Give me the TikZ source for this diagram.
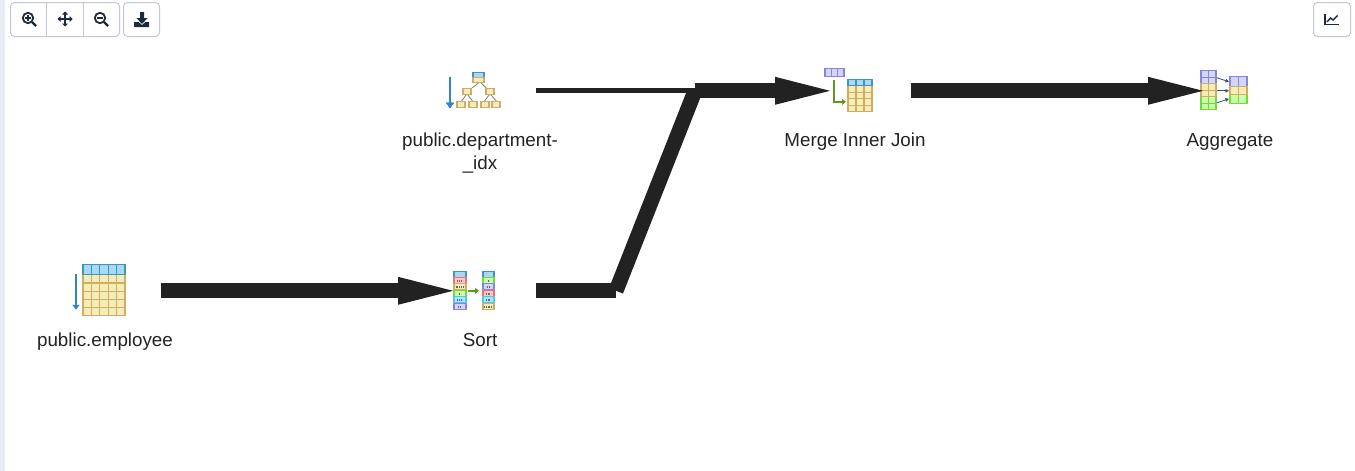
\documentclass[tikz,border=0pt]{standalone}
\usepackage{fontspec}
\setmainfont{Liberation Sans}
\usetikzlibrary{arrows.meta,positioning}

\definecolor{flowink}{HTML}{222222}
\definecolor{toolink}{HTML}{1E2A3A}
\definecolor{toolline}{HTML}{C3C7D6}
\definecolor{sidebar}{HTML}{E9EBF5}
\definecolor{rowfill}{HTML}{F3EDB8}
\definecolor{rowline}{HTML}{D4AB62}
\definecolor{headfill}{HTML}{A9D8F2}
\definecolor{headline}{HTML}{3F93C8}
\definecolor{lavfill}{HTML}{D5D5F7}
\definecolor{lavline}{HTML}{8585E0}
\definecolor{grnfill}{HTML}{CCFFAA}
\definecolor{grnline}{HTML}{6EDD3C}
\definecolor{redfill}{HTML}{FFC8C8}
\definecolor{redline}{HTML}{F07070}
\definecolor{cyanfill}{HTML}{A8E8FF}
\definecolor{cyanline}{HTML}{50C8F0}
\definecolor{arrowgrn}{HTML}{5E9A1E}
\definecolor{arrowblu}{HTML}{2F86C0}
\definecolor{arrowgry}{HTML}{3C5068}

% one block with a grid in it: corners, columns, rows, line and fill colour
\newcommand{\cellblock}[8]{%
  \filldraw[draw=#7,fill=#8,line width=1.2pt] (#1,#2) rectangle (#3,#4);
  \foreach \i in {1,...,#5} {
    \ifnum\i<#5
    \draw[#7,line width=1.1pt] ({#1+(#3-#1)*\i/#5},#2) -- ({#1+(#3-#1)*\i/#5},#4);
    \fi
  }
  \foreach \i in {1,...,#6} {
    \ifnum\i<#6
    \draw[#7,line width=1.1pt] (#1,{#2+(#4-#2)*\i/#6}) -- (#3,{#2+(#4-#2)*\i/#6});
    \fi
  }
}

\tikzset{
  plan/.style={minimum width=112pt,minimum height=50pt,inner sep=0pt},
  caption/.style={font=\fontsize{18.8pt}{23pt}\selectfont,text=flowink,align=center,inner sep=0pt,anchor=base},
  flow/.style={draw=flowink,line width=15pt},
  flowtip/.style={flow,-{Triangle[length=55pt,width=28pt,line width=0pt]}},
  scanarrow/.style={draw=arrowblu,line width=1.6pt,-{Triangle[length=5pt,width=7pt]}},
  toolbox/.style={draw=toolline,line width=1pt,rounded corners=4pt,fill=white},
  tablescan/.pic={
    \cellblock{-22}{-16}{20}{25}{5}{5}{rowline}{rowfill}
    \cellblock{-22}{-26}{20}{-16}{5}{1}{headline}{headfill}
    \draw[scanarrow] (-29,-17) -- (-29,19);
  },
  indexscan/.pic={
    \draw[gray,line width=.8pt] (0,-9) -- (-13,1) (0,-9) -- (10,1);
    \draw[gray,line width=.8pt] (-13,3) -- (-19,11) (-13,3) -- (-7,11) (10,3) -- (4,11) (10,3) -- (17,11);
    \cellblock{-7}{-13}{4}{-18}{1}{1}{headline}{headfill}
    \cellblock{-7}{-13}{4}{-8}{1}{1}{rowline}{rowfill}
    \foreach \bx in {-17,6}
      \cellblock{\bx}{-2}{\bx+8}{4}{1}{1}{rowline}{rowfill}
    \foreach \bx in {-23,-11,1,12}
      \cellblock{\bx}{11}{\bx+8}{17}{1}{1}{rowline}{rowfill}
    \draw[scanarrow] (-30,-14) -- (-30,17);
  },
  mergejoin/.pic={
    \cellblock{-30}{-22}{-11}{-14}{3}{1}{lavline}{lavfill}
    \cellblock{-7}{-5}{17}{21}{3}{4}{rowline}{rowfill}
    \cellblock{-7}{-11}{17}{-5}{3}{1}{headline}{headfill}
    \draw[arrowgrn,line width=1.6pt,-{Triangle[length=4pt,width=6pt]}] (-21,-11) -- (-21,11) -- (-9,11);
  },
  aggregate/.pic={
    \cellblock{-29}{-20}{-14}{-7}{2}{2}{lavline}{lavfill}
    \cellblock{-29}{6}{-14}{19}{2}{2}{grnline}{grnfill}
    \cellblock{-29}{-7}{-14}{6}{2}{2}{rowline}{rowfill}
    \cellblock{0}{-14}{17}{-4}{2}{1}{lavline}{lavfill}
    \cellblock{0}{4}{17}{13}{2}{1}{grnline}{grnfill}
    \cellblock{0}{-4}{17}{4}{2}{1}{rowline}{rowfill}
    \draw[arrowgry,line width=.8pt,-{Triangle[length=3.5pt,width=3.5pt]}] (-13,-13) -- (-1,-9);
    \draw[arrowgry,line width=.8pt,-{Triangle[length=3.5pt,width=3.5pt]}] (-13,0) -- (-1,0);
    \draw[arrowgry,line width=.8pt,-{Triangle[length=3.5pt,width=3.5pt]}] (-13,12) -- (-1,8);
  },
  sortstack/.pic={
    \foreach \cy/\cl/\cf/\bw in {-19/headline/headfill/0,-13/redline/redfill/3,-7/rowline/rowfill/5,0/grnline/grnfill/1,6/cyanline/cyanfill/3,13/lavline/lavfill/2}{
      \cellblock{-26}{\cy}{-14}{\cy+6}{1}{1}{\cl}{\cf}
      \ifnum\bw>0
        \draw[gray!80!black,line width=2.4pt,dash pattern=on .9pt off .9pt] ({-20-.9*\bw},\cy+3) -- ({-20+.9*\bw},\cy+3);
      \fi
    }
    \foreach \cy/\cl/\cf/\bw in {-19/headline/headfill/0,-13/grnline/grnfill/1,-7/lavline/lavfill/2,0/redline/redfill/3,6/cyanline/cyanfill/3,13/rowline/rowfill/5}{
      \cellblock{3}{\cy}{14}{\cy+6}{1}{1}{\cl}{\cf}
      \ifnum\bw>0
        \draw[gray!80!black,line width=2.4pt,dash pattern=on .9pt off .9pt] ({8.5-.9*\bw},\cy+3) -- ({8.5+.9*\bw},\cy+3);
      \fi
    }
    \draw[arrowgrn,line width=1.6pt,-{Triangle[length=4pt,width=6pt]}] (-12,0) -- (-1,0);
  }
}

\begin{document}
\begin{tikzpicture}[x=1pt,y=-1pt,on grid,node distance=375pt]
  \useasboundingbox (0,0) rectangle (1355,471);
  \fill[sidebar] (0,0) rectangle (5,471);

  % toolbar
  \draw[toolbox] (10.5,2.5) rectangle (119.5,36.5);
  \draw[toolline,line width=1pt] (46.5,2.5) -- (46.5,36.5) (83.5,2.5) -- (83.5,36.5);
  \draw[toolbox] (123.5,2.5) rectangle (159.5,36.5);
  \draw[toolbox] (1313.5,2.5) rectangle (1350.5,36.5);
  \foreach \mx in {28,100} {
    \draw[toolink,line width=1.8pt] (\mx,18) circle (5.2);
    \draw[toolink,line width=2.4pt] (\mx+4,22) -- (\mx+8,26);
    \draw[toolink,line width=1.2pt] (\mx-2.8,18) -- (\mx+2.8,18);
  }
  \draw[toolink,line width=1.2pt] (28,15.2) -- (28,20.8);
  \draw[toolink,line width=1.6pt] (58,19) -- (72,19) (65,12) -- (65,26);
  \fill[toolink] (57.5,19) -- (60.5,16) -- (60.5,22) -- cycle
    (72.5,19) -- (69.5,16) -- (69.5,22) -- cycle
    (65,11.5) -- (62,14.5) -- (68,14.5) -- cycle
    (65,26.5) -- (62,23.5) -- (68,23.5) -- cycle;
  \fill[toolink] (140,12) rectangle (144,18) (136.5,18) -- (147.5,18) -- (142,24) -- cycle;
  \fill[toolink] (134,22) -- (138.5,22) -- (142,25) -- (145.5,22) -- (149,22) -- (149,27) -- (134,27) -- cycle;
  \draw[toolink,line width=1.2pt] (1325,14) -- (1325,24.5) -- (1339,24.5);
  \draw[toolink,line width=1.4pt] (1327,22) -- (1330.5,18) -- (1333,20) -- (1337.5,15.5);

  % plan nodes
  \node[plan] (employee) at (105,290.8) {};
  \node[plan] (sort) [right = of employee] {};
  \node[plan] (department) [above = 200pt of sort] {};
  \node[plan] (merge) [right = of department] {};
  \node[plan] (agg) [right = of merge] {};

  \node[caption] (employeetext) at ([yshift=-55.5pt]employee) {public.employee};
  \node[caption] (sorttext) at ([yshift=-55.5pt]sort) {Sort};
  \node[caption] (departmenttext) at ([yshift=-78.5pt]department) {public.department-\\\_idx};
  \node[caption] (mergetext) at ([yshift=-55.5pt]merge) {Merge Inner Join};
  \node[caption] (aggtext) at ([yshift=-55.5pt]agg) {Aggregate};

  \pic at (employee) {tablescan};
  \pic at (sort) {sortstack};
  \pic at (department) {indexscan};
  \pic at (merge) {mergejoin};
  \pic at (agg) {aggregate};

  % where the flows bend or stop
  \coordinate[left = 27pt of sort] (sortin);
  \coordinate[left = 25pt of merge] (mergein);
  \coordinate[left = 27pt of agg] (aggin);
  \coordinate[right = 136pt of sort] (bendlow);
  \coordinate[right = 215pt of department] (bendhigh);

  \draw[flow,line width=5pt] (department.east) -- (bendhigh);
  \draw[flow] (sort.east) -- (bendlow);
  \draw[flow] (bendlow) -- (bendhigh);
  \draw[flowtip] (employee.east) -- (sortin);
  \draw[flowtip] (bendhigh) -- (mergein);
  \draw[flowtip] (merge.east) -- (aggin);
\end{tikzpicture}
\end{document}
